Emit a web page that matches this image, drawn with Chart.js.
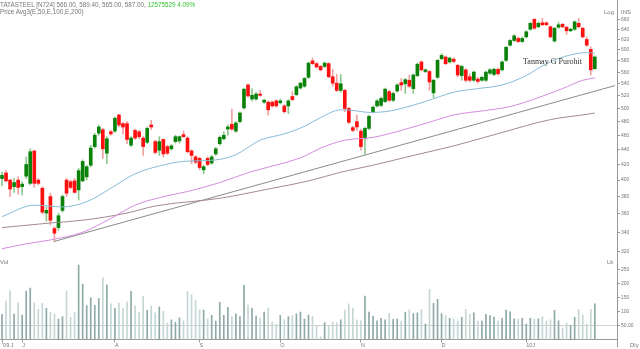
<!DOCTYPE html>
<html>
<head>
<meta charset="utf-8">
<title>TATASTEEL</title>
<script src="https://cdn.jsdelivr.net/npm/chart.js@4.4.1/dist/chart.umd.min.js"></script>
<style>
    html, body { margin: 0; padding: 0; background: #fff; }
    #wrap { position: relative; width: 640px; height: 349px; overflow: hidden; font-family: "Liberation Sans", Arial, sans-serif; }
    #wrap canvas { position: absolute; left: 0; }
    #priceChart { top: 0; }
    #volChart { top: 257px; }
    .lbl { position: absolute; font-size: 6px; line-height: 6px; color: #777; white-space: nowrap; }
    .head { font-size: 6.3px; }
    .sign { position: absolute; font-family: "Liberation Serif", "Times New Roman", serif; font-size: 8px; line-height: 8px; color: #333; white-space: nowrap; }
    .vline { position: absolute; width: 1px; background: #999; }
</style>
</head>
<body>
<div id="wrap">
    <canvas id="priceChart" width="640" height="257"></canvas>
    <canvas id="volChart" width="640" height="92"></canvas>
    <div class="lbl head" style="left:0;top:1.5px">TATASTEEL [N724] 566.00, 589.40, 565.00, 587.00, <span style="color:#33c533">12575529 4.09%</span></div>
    <div class="lbl head" style="left:0;top:8.5px">Price Avg3(E,50,E,100,E,200)</div>
    <div class="lbl" style="left:604px;top:9px">Log</div>
    <div class="lbl" style="left:621px;top:9px">INS</div>
    <div class="lbl" style="left:0;top:258.5px">Vol</div>
    <div class="lbl" style="left:607px;top:258.5px">Lk</div>
    <div class="lbl" style="left:630px;top:341.5px">Dly</div>
    <div class="sign" style="left:523px;top:57.5px">Tanmay G Purohit</div>
    <div class="vline" style="left:617px;top:339px;height:8px"></div>
</div>

<script>
// 日线数据 (2009-06 ~ 2010-01)
const opens = [
    402, 409, 400, 392, 400, 392, 405, 396, 438, 400, 390, 361, 380, 344, 345, 364, 400, 398, 399, 388,
    399, 404, 419, 444, 463, 468, 435, 465, 466, 490, 477, 477, 446, 467, 465, 456, 450, 475, 451, 439,
    454, 444, 441, 451, 452, 461, 456, 438, 430, 428, 413, 428, 422, 434, 448, 455, 469, 476, 466, 480,
    501, 538, 515, 515, 523, 510, 510, 510, 512, 509, 504, 504, 519, 522, 533, 536, 551, 580, 575, 570,
    570, 575, 552, 541, 529, 529, 500, 471, 480, 466, 456, 470, 495, 504, 505, 511, 527, 513, 528, 542,
    540, 546, 532, 554, 578, 561, 561, 525, 551, 584, 587, 578, 583, 572, 554, 564, 552, 546, 548, 546,
    546, 558, 556, 565, 564, 581, 609, 618, 622, 616, 625, 640, 660, 645, 653, 653, 645, 617, 644, 650,
    644, 637, 640, 652, 642, 620, 601, 566
];
const highs = [
    410, 412, 401, 402, 404, 398, 430, 441, 439, 402, 392, 368, 384, 346, 361, 382, 402, 400, 402, 415,
    426, 419, 446, 463, 475, 470, 458, 467, 487, 491, 479, 480, 458, 469, 467, 458, 472, 482, 453, 458,
    455, 446, 447, 460, 459, 466, 458, 440, 432, 430, 419, 430, 432, 443, 459, 465, 475, 499, 480, 495,
    533, 540, 532, 526, 529, 515, 512, 512, 514, 515, 506, 514, 527, 537, 543, 551, 578, 585, 577, 572,
    578, 577, 565, 556, 556, 531, 502, 473, 490, 469, 472, 490, 504, 514, 518, 533, 529, 526, 540, 549,
    549, 555, 557, 576, 580, 566, 563, 548, 583, 593, 589, 587, 586, 574, 572, 566, 557, 562, 551, 553,
    562, 566, 567, 567, 580, 607, 620, 629, 625, 625, 637, 654, 662, 655, 662, 655, 647, 644, 654, 652,
    646, 642, 657, 662, 644, 625, 606, 589.4
];
const lows = [
    393, 398, 380, 385, 383, 382, 402, 394, 391, 394, 360, 352, 348, 330, 342, 362, 380, 389, 384, 376,
    398, 400, 417, 442, 460, 428, 421, 460, 464, 472, 462, 448, 444, 454, 455, 432, 448, 468, 434, 432,
    430, 433, 439, 449, 449, 457, 435, 421, 421, 413, 408, 418, 420, 432, 446, 453, 460, 467, 464, 478,
    499, 518, 512, 513, 519, 508, 490, 502, 502, 507, 493, 492, 512, 520, 531, 534, 549, 573, 567, 562,
    568, 550, 536, 527, 526, 495, 477, 465, 467, 439, 434, 468, 493, 502, 503, 509, 511, 511, 526, 529,
    524, 534, 524, 552, 562, 559, 529, 517, 549, 582, 573, 576, 576, 552, 546, 543, 543, 544, 541, 544,
    544, 556, 554, 555, 562, 579, 607, 616, 614, 614, 623, 638, 640, 643, 647, 647, 623, 615, 642, 643,
    630, 635, 638, 643, 623, 607, 555, 565
];
const closes = [
    406, 399, 389, 397, 391, 395, 420, 437, 396, 396, 362, 364, 353, 339, 358, 380, 384, 391, 385, 412,
    424, 417, 442, 460, 472, 441, 455, 462, 485, 475, 472, 454, 456, 456, 458, 444, 470, 472, 436, 451,
    434, 435, 445, 458, 458, 458, 437, 432, 423, 416, 417, 420, 430, 441, 457, 460, 472, 469, 478, 493,
    531, 520, 521, 523, 521, 513, 498, 504, 504, 512, 495, 512, 514, 535, 541, 549, 576, 575, 569, 564,
    576, 552, 541, 529, 540, 500, 479, 467, 472, 444, 470, 488, 502, 512, 516, 531, 513, 524, 538, 538,
    547, 536, 555, 574, 564, 564, 543, 546, 581, 590, 575, 585, 579, 555, 570, 546, 546, 560, 544, 551,
    560, 564, 565, 557, 578, 605, 618, 627, 616, 622, 635, 652, 642, 652, 649, 649, 625, 642, 649, 645,
    637, 640, 655, 645, 625, 609, 564, 587
];
// 成交量 (Lakh)
const volumes = [
    90, 137, 174, 91, 131, 87, 173, 184, 131, 108, 129, 111, 98, 91, 73, 82, 173, 79, 98, 266,
    198, 121, 149, 122, 146, 220, 195, 127, 111, 130, 111, 134, 172, 120, 96, 153, 104, 120, 95, 117,
    101, 59, 70, 61, 77, 67, 171, 160, 141, 105, 105, 73, 86, 66, 133, 86, 115, 82, 92, 82,
    193, 123, 111, 84, 76, 98, 112, 62, 55, 86, 71, 82, 85, 92, 98, 73, 87, 82, 51, 10,
    60, 51, 62, 60, 70, 105, 127, 111, 70, 67, 155, 98, 84, 67, 76, 70, 93, 72, 73, 66,
    98, 105, 93, 95, 108, 55, 179, 129, 143, 93, 86, 76, 73, 67, 79, 108, 90, 95, 66, 66,
    90, 85, 80, 67, 76, 105, 99, 74, 73, 76, 55, 76, 73, 74, 82, 67, 70, 104, 67, 42,
    59, 51, 79, 108, 87, 55, 108, 127
];

// 均线 EMA50 / EMA100 / EMA200 (位置, 值)
const ema50Idx = [0, 8, 15, 21, 27, 33, 39, 45, 53, 58, 64, 70, 75, 79, 84, 87, 91, 95, 99, 105, 112, 118, 124, 130, 135, 141, 145, 147];
const ema50Val = [357, 370, 368, 374, 390, 408, 418, 424, 426, 433, 453, 462, 473, 486, 498, 497, 494, 495, 500, 511, 526, 532, 538, 554, 575, 591, 595, 594];
const ema100Idx = [0, 6, 12, 20, 27, 33, 41, 46, 54, 62, 70, 75, 79, 85, 92, 99, 107, 112, 120, 126, 132, 139, 144, 147];
const ema100Val = [323, 328, 332, 340, 355, 370, 381, 386, 397, 411, 422, 431, 442, 453, 457, 467, 481, 490, 497, 503, 515, 532, 546, 550];
const ema200Idx = [0, 12, 20, 31, 38, 54, 66, 76, 84, 92, 102, 112, 124, 136, 145, 147];
const ema200Val = [345, 350, 353, 361, 369, 378, 389, 399, 410, 419, 432, 445, 464, 483, 491, 493];

// 趋势线 (两个端点)
const trendIdx = [13, 152];
const trendVal = [330.5, 537];

// 刻度
const priceTicks = [320, 340, 360, 380, 400, 420, 440, 460, 480, 500, 520, 540, 560, 580, 600, 620, 640, 660];
const volTicks = [50, 100, 150, 200, 250];
const monthIdx = [0, 5, 28, 49, 69, 89, 109, 130];
const monthLbl = ["'09.J", 'J', 'A', 'S', 'O', 'N', 'D', '10J'];

const totalSlots = 153;   // 148 根K线 + 右侧空白

document.addEventListener('DOMContentLoaded', function() {
    Chart.defaults.font.family = "'Liberation Sans', Arial, sans-serif";
    Chart.defaults.color = '#777';
    drawPriceChart();
    drawVolumeChart();
});

function slotLabels() {
    const labels = [];
    for (let i = 0; i < totalSlots; i++) labels.push(String(i));
    return labels;
}

/**
 * 稀疏点 -> 整列数组 (其余为 null)
 */
function sparse(idx, val) {
    const out = new Array(totalSlots).fill(null);
    idx.forEach((k, j) => { out[k] = val[j]; });
    return out;
}

function lineSet(label, data, color, smooth) {
    return {
        type: 'line',
        label: label,
        data: data,
        borderColor: color,
        borderWidth: 1,
        pointRadius: 0,
        spanGaps: true,
        cubicInterpolationMode: smooth ? 'monotone' : 'default',
        tension: 0,
        order: 0
    };
}

function drawPriceChart() {
    const up = closes.map((c, i) => c >= opens[i]);

    new Chart(document.getElementById('priceChart'), {
        type: 'bar',
        data: {
            labels: slotLabels(),
            datasets: [
                lineSet('EMA50', sparse(ema50Idx, ema50Val), '#86bcd6', true),
                lineSet('EMA100', sparse(ema100Idx, ema100Val), '#d58ae0', true),
                lineSet('EMA200', sparse(ema200Idx, ema200Val), '#a48a8e', true),
                lineSet('Trend', sparse(trendIdx, trendVal), '#8a8a8a', false),
                {
                    label: 'body',
                    data: opens.map((o, i) => [o, closes[i]]),
                    backgroundColor: up.map(u => u ? '#0a820a' : '#ff1010'),
                    barThickness: 3,
                    grouped: false,
                    order: 1
                },
                {
                    label: 'wick',
                    data: lows.map((l, i) => [l, highs[i]]),
                    backgroundColor: up.map(u => u ? '#8fc98f' : '#f0a0a0'),
                    barThickness: 1,
                    grouped: false,
                    order: 2
                }
            ]
        },
        options: {
            responsive: false,
            animation: false,
            layout: { padding: 0 },
            plugins: { legend: { display: false }, tooltip: { enabled: false } },
            scales: {
                x: {
                    type: 'category',
                    offset: true,
                    grid: { display: false },
                    ticks: { display: false },
                    border: { display: true, color: '#999' },
                    afterFit(s) { s.height = 0; s.paddingLeft = 0; s.paddingRight = 0; }
                },
                y: {
                    type: 'logarithmic',
                    position: 'right',
                    min: 314.8,
                    max: 701.1,
                    afterBuildTicks(s) { s.ticks = priceTicks.map(v => ({ value: v })); },
                    afterFit(s) { s.width = 23; s.paddingTop = 0; s.paddingBottom = 0; },
                    grid: { drawOnChartArea: false, tickLength: 3, color: '#999' },
                    border: { display: true, color: '#999' },
                    ticks: { font: { size: 5 }, color: '#777', padding: 1, callback: v => String(v) }
                }
            }
        }
    });
}

function drawVolumeChart() {
    const up = closes.map((c, i) => c >= opens[i]);

    new Chart(document.getElementById('volChart'), {
        type: 'bar',
        data: {
            labels: slotLabels(),
            datasets: [{
                label: 'Vol',
                data: volumes,
                backgroundColor: up.map(u => u ? '#8fa9a6' : '#c4d7d4'),
                barThickness: 1
            }]
        },
        options: {
            responsive: false,
            animation: false,
            layout: { padding: 0 },
            plugins: { legend: { display: false }, tooltip: { enabled: false } },
            scales: {
                x: {
                    type: 'category',
                    offset: true,
                    afterBuildTicks(s) { s.ticks = monthIdx.map(i => ({ value: i })); },
                    afterFit(s) { s.height = 9.5; s.paddingLeft = 0; s.paddingRight = 0; },
                    grid: { drawOnChartArea: false, offset: false, tickLength: 3, color: '#999' },
                    border: { display: true, color: '#999' },
                    ticks: {
                        autoSkip: false, maxRotation: 0, align: 'start', padding: 0,
                        font: { size: 5.5 }, color: '#777',
                        callback: (v, i) => monthLbl[i]
                    }
                },
                y: {
                    position: 'right',
                    min: 0,
                    max: 294.6,
                    afterBuildTicks(s) { s.ticks = volTicks.map(v => ({ value: v })); },
                    afterFit(s) { s.width = 23; s.paddingTop = 0; s.paddingBottom = 0; },
                    grid: {
                        drawOnChartArea: true,
                        tickLength: 3,
                        color: c => (c.tick && c.tick.value === 50) ? '#d2d2d2' : 'rgba(0,0,0,0)',
                        tickColor: '#999'
                    },
                    border: { display: true, color: '#999' },
                    ticks: { font: { size: 5 }, color: '#777', padding: 1, callback: v => v === 50 ? '50.00' : String(v) }
                }
            }
        }
    });
}
</script>
</body>
</html>
